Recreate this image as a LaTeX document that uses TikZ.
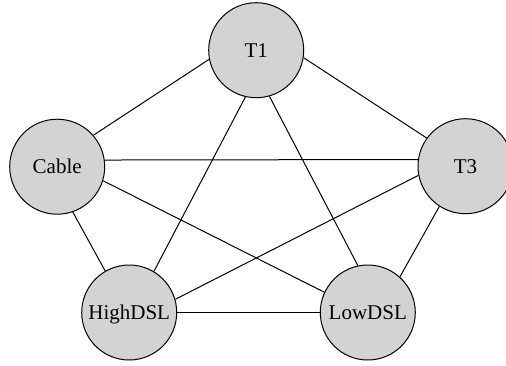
\documentclass[tikz,border=0pt]{standalone}
\usepackage{fontspec}
\setmainfont{Liberation Serif}
\begin{document}
\begin{tikzpicture}[x=1pt,y=-1pt,
  vnode/.style={circle,draw=black,line width=1pt,fill={rgb,255:red,211;green,211;blue,211},
    minimum size=95pt,inner sep=0pt,font=\fontsize{21}{24}\selectfont,
    text height=15pt,text depth=1pt},
  edge/.style={draw=black,line width=1pt}]
\useasboundingbox (0,0) rectangle (506,365);
\node[vnode] (T1) at (256.2,50.2) {T1};
\node[vnode] (Cable) at (57.2,166.7) {Cable};
\node[vnode] (T3) at (465.5,166.2) {T3};
\node[vnode] (High) at (129.2,312.5) {HighDSL};
\node[vnode] (Low) at (367.8,312.5) {LowDSL};
\draw[edge] (Cable.41.4) -- (T1.191);
\draw[edge] (T1.-9.8) -- (T3.144.3);
\draw[edge] (Cable.8) -- (T3.172.6);
\draw[edge] (Cable.-17.2) -- (Low.155.5);
\draw[edge] (Cable.-71.4) -- (High.120.7);
\draw[edge] (T1.-103.5) -- (High.59.4);
\draw[edge] (T1.-74.4) -- (Low.102);
\draw[edge] (T3.191.5) -- (High.16);
\draw[edge] (T3.237.8) -- (Low.48.3);
\draw[edge] (High.0) -- (Low.180);
\end{tikzpicture}
\end{document}
